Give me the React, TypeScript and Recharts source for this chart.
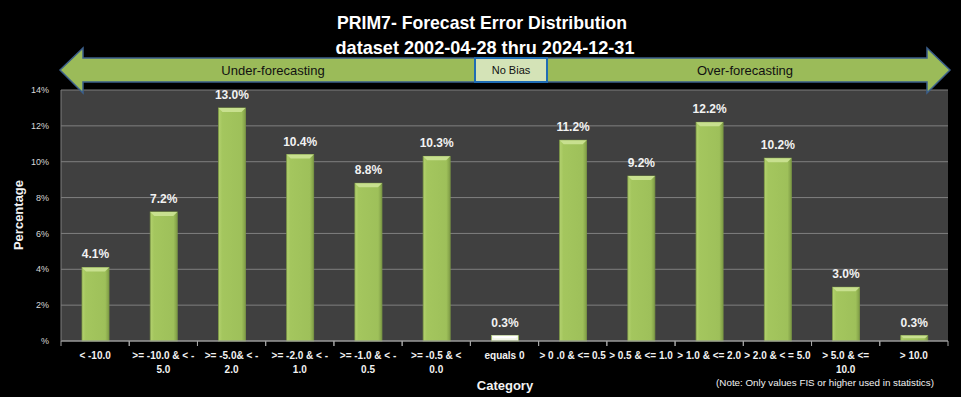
import { Bar, BarChart, CartesianGrid, LabelList, XAxis, YAxis } from "recharts";

const CATEGORIES = [
  "< -10.0",
  ">= -10.0 & < -\n5.0",
  ">= -5.0& < -\n2.0",
  ">= -2.0 & < -\n1.0",
  ">= -1.0 & < -\n0.5",
  ">= -0.5 & <\n0.0",
  "equals 0",
  "> 0 .0 & <= 0.5",
  "> 0.5 & <= 1.0",
  "> 1.0 & <= 2.0",
  "> 2.0 & < = 5.0",
  "> 5.0 & <=\n10.0",
  "> 10.0",
];
const PERCENTS = [4.1, 7.2, 13.0, 10.4, 8.8, 10.3, 0.3, 11.2, 9.2, 12.2, 10.2, 3.0, 0.3];
const Y_TICKS = [0, 2, 4, 6, 8, 10, 12, 14];

const DATA = CATEGORIES.map((cat, i) => ({ cat, v: PERCENTS[i] }));

const W = 961;
const H = 397;
const M = { top: 90, right: 13, left: 27, bottom: 0 };
const Y_W = 34;
const HALF_BAND = (W - M.left - Y_W - M.right) / CATEGORIES.length / 2;
const FONT = "'Liberation Sans', Arial, sans-serif";

function BevelBar(props: any) {
  const { x, y, width, height, payload } = props;
  if (!height || height <= 0) return null;
  const zero = payload.cat === "equals 0";
  const b = Math.min(4, height / 2);
  return (
    <g>
      <rect
        x={x}
        y={y}
        width={width}
        height={height}
        fill={zero ? "#f1f5e6" : "url(#barFill)"}
        stroke={zero ? "#9bbb59" : "#7e9b46"}
        strokeWidth={0.8}
      />
      <polygon
        points={`${x},${y} ${x + width},${y} ${x + width - b},${y + b} ${x + b},${y + b}`}
        fill={zero ? "#ffffff" : "#c8e08f"}
      />
    </g>
  );
}

function CatTick(props: any) {
  const { x, y, payload } = props;
  const lines = String(payload.value).split("\n");
  return (
    <g>
      <line x1={x - HALF_BAND} x2={x - HALF_BAND} y1={y} y2={y + 5} stroke="#a6a6a6" />
      <line x1={x + HALF_BAND} x2={x + HALF_BAND} y1={y} y2={y + 5} stroke="#a6a6a6" />
      {lines.map((l, i) => (
        <text
          key={i}
          x={x}
          y={y + 18 + i * 14}
          textAnchor="middle"
          fill="#f2f2f2"
          fontSize={10}
          fontWeight="bold"
          fontFamily={FONT}
        >
          {l}
        </text>
      ))}
    </g>
  );
}

export default function App() {
  return (
    <div style={{ position: "absolute", left: 0, top: 0, width: W, height: H, background: "#000" }}>
      <BarChart width={W} height={H} data={DATA} margin={M}>
        <defs>
          <linearGradient id="barFill" x1="0" y1="0" x2="1" y2="0">
            <stop offset="0%" stopColor="#b4d26f" />
            <stop offset="14%" stopColor="#a4c65e" />
            <stop offset="86%" stopColor="#9ec05a" />
            <stop offset="100%" stopColor="#7f9c46" />
          </linearGradient>
        </defs>
        <CartesianGrid vertical={false} stroke="#7f7f7f" fill="#404040" />
        <XAxis
          dataKey="cat"
          interval={0}
          height={56}
          tickLine={false}
          tickSize={0}
          tickMargin={0}
          axisLine={{ stroke: "#a6a6a6" }}
          tick={<CatTick />}
        />
        <YAxis
          width={Y_W}
          domain={[0, 14]}
          ticks={Y_TICKS}
          tickFormatter={(v: number) => (v === 0 ? "%" : `${v}%`)}
          tickLine={false}
          tickMargin={6}
          axisLine={{ stroke: "#7f7f7f" }}
          tick={{ fontSize: 9, fill: "#d9d9d9", fontFamily: FONT }}
        />
        <Bar dataKey="v" barSize={27} shape={<BevelBar />} isAnimationActive={false}>
          <LabelList
            dataKey="v"
            position="top"
            offset={9}
            formatter={(v: any) => `${Number(v).toFixed(1)}%`}
            style={{ fill: "#f2f2f2", fontSize: 12, fontWeight: "bold", fontFamily: FONT }}
          />
        </Bar>
      </BarChart>
      <svg
        width={W}
        height={H}
        style={{ position: "absolute", left: 0, top: 0, pointerEvents: "none" }}
      >
        <text
          x={482}
          y={29}
          textAnchor="middle"
          fill="#fff"
          fontSize={19}
          fontWeight="bold"
          fontFamily={FONT}
          textLength={290}
          lengthAdjust="spacingAndGlyphs"
        >
          PRIM7- Forecast Error Distribution
        </text>
        <text
          x={485}
          y={54}
          textAnchor="middle"
          fill="#fff"
          fontSize={19}
          fontWeight="bold"
          fontFamily={FONT}
          textLength={299}
          lengthAdjust="spacingAndGlyphs"
        >
          dataset 2002-04-28  thru 2024-12-31
        </text>
        <polygon
          points="60,70 83,48 83,58 927,58 927,48 950,70 927,93 927,82 83,82 83,93"
          fill="#9bbb59"
          stroke="#3b5f8b"
          strokeWidth={1.5}
        />
        <rect x={475} y={58} width={72} height={24} fill="#d4e3b7" stroke="#1f6cb4" strokeWidth={2} />
        <text x={273} y={75} textAnchor="middle" fill="#111" fontSize={13} fontFamily={FONT}>
          Under-forecasting
        </text>
        <text x={511} y={74} textAnchor="middle" fill="#111" fontSize={11} fontFamily={FONT}>
          No  Bias
        </text>
        <text x={745} y={75} textAnchor="middle" fill="#111" fontSize={13} fontFamily={FONT}>
          Over-forecasting
        </text>
        <text
          x={23}
          y={215}
          transform="rotate(-90 23 215)"
          textAnchor="middle"
          fill="#f2f2f2"
          fontSize={13}
          fontWeight="bold"
          fontFamily={FONT}
        >
          Percentage
        </text>
        <text x={505} y={390} textAnchor="middle" fill="#f2f2f2" fontSize={13} fontWeight="bold" fontFamily={FONT}>
          Category
        </text>
        <text x={825} y={386} textAnchor="middle" fill="#f2f2f2" fontSize={9.8} fontFamily={FONT}>
          (Note: Only values FIS or higher used in statistics)
        </text>
      </svg>
    </div>
  );
}
